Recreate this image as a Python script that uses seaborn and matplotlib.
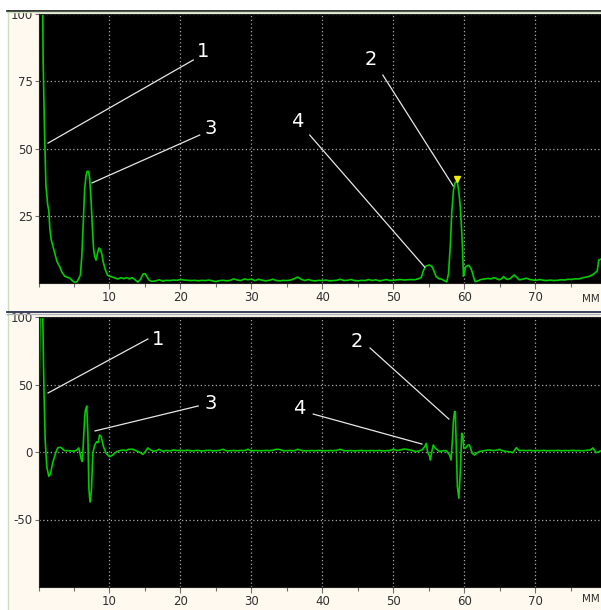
import numpy as np
import pandas as pd
import matplotlib
matplotlib.use("Agg")
import matplotlib.pyplot as plt
import seaborn as sns

# -------------------- data --------------------
# top panel: envelope amplitude (%) vs depth (mm)
env_x = [0.0, 0.02, 0.6, 0.65, 0.85, 1.05, 1.3, 1.45, 1.6, 1.8, 2.1, 2.3, 2.6, 3.0, 3.3,
         3.7, 4.0, 4.4, 4.8, 5.1, 5.4, 5.7, 5.9, 6.1, 6.3, 6.5, 6.7, 6.85, 7.05, 7.2,
         7.4, 7.6, 7.75, 7.9, 8.1, 8.3, 8.5, 8.7, 8.9, 9.1, 9.4, 9.7, 10.0, 10.4, 10.8,
         11.2, 11.6, 12.0, 12.4, 12.8, 13.2, 13.6, 14.0, 14.4, 14.7, 15.0, 15.3, 15.6,
         16.0, 16.5, 17.0, 17.5, 18.0, 18.5, 19.0, 19.5, 20.0, 20.5, 21.0,
         21.5, 22.0, 22.5, 23.0, 23.5, 24.0, 24.5, 25.0, 25.5, 26.0, 26.5, 27.0, 27.5,
         28.0, 28.5, 29.0, 29.5, 30.0, 30.5, 31.0, 31.5, 32.0, 32.5, 33.0, 33.5, 34.0,
         34.5, 35.0, 35.5, 36.0, 36.5, 37.0, 37.5, 38.0, 38.5, 39.0, 39.5, 40.0, 40.5,
         41.0, 41.5, 42.0, 42.5, 43.0, 43.5, 44.0, 44.5, 45.0, 45.5, 46.0, 46.5, 47.0,
         47.5, 48.0, 48.5, 49.0, 49.5, 50.0, 50.5, 51.0, 51.5, 52.0, 52.5, 53.0, 53.5,
         53.9, 54.2, 54.5, 55.0, 55.4, 55.7, 56.0, 56.4, 56.8, 57.2, 57.5, 57.75, 58.0,
         58.2, 58.45, 58.7, 59.0, 59.2, 59.4, 59.55, 59.7, 59.85, 60.0, 60.2, 60.6,
         60.9, 61.1, 61.3, 61.5, 61.9, 62.3, 62.8, 63.3, 63.7, 64.2, 64.5, 64.9, 65.2,
         65.5, 65.8, 66.1, 66.5, 67.0, 67.3, 67.7, 68.2, 68.7, 69.2, 69.7, 70.1, 70.6,
         71.1, 71.6, 72.1, 72.6, 73.1, 73.6, 74.1, 74.6, 75.1, 75.6, 76.1, 76.6, 77.1,
         77.6, 78.0, 78.4, 78.7, 78.9, 79.3]
env_y = [0, 100, 100, 83, 56, 36, 29, 27, 20, 16, 13, 11, 8, 6, 4,
         2.5, 2.2, 1.8, 0.8, 0.2, 0.5, 1.8, 3, 10, 22, 35, 40, 41.5, 41.5, 39,
         31, 20, 13, 10, 8.5, 11, 13, 12.5, 11, 8, 5, 3, 2.5, 2.2, 1.8,
         1.5, 2.0, 1.6, 2.0, 1.5, 2.0, 1.2, 0.3, 1.5, 3.3, 3.5, 2.2, 1.0,
         0.6, 0.8, 1.2, 0.7, 1.0, 0.9, 1.1, 1.0, 1.3, 1.1, 1.0,
         0.9, 1.0, 0.8, 1.0, 0.9, 1.1, 0.8, 0.5, 0.9, 1.0, 0.8, 1.0, 1.5,
         1.1, 0.9, 1.5, 1.2, 1.4, 0.9, 1.4, 1.0, 0.8, 1.0, 1.4, 0.9, 0.8,
         1.0, 0.9, 1.1, 1.6, 2.2, 1.4, 0.9, 1.3, 0.9, 0.8, 1.0, 0.9, 1.1,
         0.8, 0.9, 1.0, 1.4, 0.9, 1.0, 1.3, 0.9, 0.8, 1.0, 0.9, 1.3, 0.9,
         1.2, 0.8, 1.0, 1.3, 0.9, 1.0, 1.2, 1.3, 1.1, 1.2, 1.3, 1.2, 1.6,
         2.0, 4.5, 6.2, 6.7, 6.2, 4.5, 2.4, 1.6, 1.4, 0.8, 0.4, 3.5, 14,
         26, 34.5, 37.5, 37.5, 34, 28.5, 22, 14, 2.5, 4.5, 6.2, 6.6,
         5.5, 4.0, 2.0, 0.5, 0.8, 1.3, 1.5, 1.7, 1.5, 2.0, 1.6, 1.2, 1.5,
         2.4, 1.6, 1.3, 1.8, 3.0, 2.2, 1.2, 1.4, 1.8, 1.3, 1.1, 1.0, 1.3,
         1.0, 0.9, 1.1, 0.9, 1.0, 1.2, 1.1, 1.4, 1.3, 1.6, 1.5, 1.9, 2.2,
         2.5, 3.0, 3.8, 4.5, 8.5, 9.0]

# bottom panel: RF signal (%) vs depth (mm)
rf_x = [0.0, 0.1, 0.22, 0.6, 0.75, 0.94, 1.17, 1.45, 1.6, 1.69, 2.0, 2.4, 2.7, 3.0, 3.2,
        3.66, 4.2, 4.6, 5.07, 5.4, 5.68, 5.9, 6.05, 6.15, 6.25, 6.34, 6.5, 6.6, 6.8,
        6.95, 7.09, 7.2, 7.28, 7.46, 7.65, 7.9, 8.2, 8.4, 8.6, 8.83, 9.15, 9.53, 10.0,
        10.4, 10.7, 11.1, 11.4, 11.9, 12.3, 12.7, 13.3, 13.7, 14.2, 14.7, 15.0, 15.4,
        15.8, 16.2, 16.6, 17.0, 17.5, 18.0, 18.5, 19.0, 19.5, 20.0, 20.5, 21.0, 21.5,
        22.0, 22.5, 23.0, 23.5, 24.0, 24.5, 25.0, 25.5, 26.0, 26.5, 27.0, 27.5, 28.0,
        28.5, 29.0, 29.5, 30.0, 30.5, 31.0, 31.5, 32.0, 32.5, 33.0, 33.5, 34.0, 34.5,
        35.0, 35.5, 36.0, 36.5, 37.0, 37.5, 38.0, 38.5, 39.0, 39.5, 40.0, 40.5, 41.0,
        41.5, 42.0, 42.5, 43.0, 43.5, 44.0, 44.5, 45.0, 45.5, 46.0, 46.5, 47.0, 47.5,
        48.0, 48.5, 49.0, 49.5, 50.0, 50.5, 51.0, 51.5, 52.3, 53.2, 54.0, 54.4, 54.6,
        54.8, 55.1, 55.2, 55.4, 55.6, 55.9, 56.5, 57.0, 57.4, 57.9, 58.1, 58.3, 58.45,
        58.6, 58.7, 58.8, 59.0, 59.2, 59.4, 59.6, 59.76, 59.9, 60.1, 60.3, 60.5, 60.7,
        61.1, 61.4, 61.8, 62.1, 62.6, 63.0, 63.5, 64.0, 64.7, 64.9, 65.3, 65.8, 66.3,
        66.8, 67.3, 67.7, 68.2, 68.7, 69.2, 69.7, 70.2, 70.7, 71.2, 71.7, 72.2, 72.7,
        73.2, 73.7, 74.2, 74.7, 75.2, 75.7, 76.2, 76.7, 77.2, 77.7, 78.1, 78.5, 79.3]
rf_y = [38, 50, 100, 100, 51, 9, -11, -18, -17, -16, -8, -1, 3, 3.5, 3.2,
        1, 1, 0.8, 0.7, 1.5, 3, -2.2, -6, -7, 0, 9, 25, 31, 34,
        14, -26, -34, -37, -28, -1, 5, 7.6, 7, 12.6, 11.4, 4, -1, -3.5,
        -2.5, -1, 0.5, 1, 1.5, 1, 2, 2, 1, 0, -1.8, 0, 3,
        1.5, 0.5, 1, 2, 0.5, 1.2, 0.8, 1.5, 1, 1.3, 0.9, 1.4, 0.8,
        1.0, 1.2, 0.7, 1.1, 1.3, 0.9, 1.0, 1.2, 2.0, 0.8, 1.0, 1.1, 0.9,
        1.2, 1.0, 2.0, 0.8, 1.1, 1.0, 0.9, 1.2, 1.0, 1.3, 2.0, 1.8, 0.9,
        1.0, 1.1, 0.9, 2.0, 1.2, 0.8, 1.0, 1.1, 0.9, 1.2, 1.0, 0.9, 1.1,
        1.0, 1.2, 2.0, 1.0, 0.9, 1.1, 0.8, 1.0, 1.2, 0.9, 1.0, 1.1, 0.9,
        1.2, 0.8, 1.0, 1.1, 2.0, 1.0, 1.6, 2.2, 1.5, 0.3, 1.5, 4, 6.4,
        0.3, -3.5, -5.9, 0.3, 5.2, 2.7, 0.3, 1, 1, -2.2, -5.9, 8.9, 23.7,
        30, 29.9, 11.4, -25.7, -34.3, -15.8, 13.8, 12.6, 2.7, 2.7, 4, 5.2, 5.2,
        -1, -2.2, -0.5, 0.3, 0.8, 1.2, 1.5, 1.0, 1.5, 2, 1, 0.5, 0.2,
        -0.5, 3.2, 1, 1.2, 1.0, 1.3, 0.9, 1.1, 1.0, 1.2, 0.9, 1.1, 1.0,
        1.2, 0.9, 1.1, 1.0, 1.2, 1.0, 1.1, 0.9, 1.2, 1.5, 3, -0.5, 1]

# callout labels: text, text position, line start, line end (data units)
top_labels = ["1", "2", "3", "4"]
top_text_x = [23.2, 46.8, 24.2, 36.4]
top_text_y = [85.9, 82.9, 57.6, 60.2]
top_line_x0 = [21.8, 48.5, 22.7, 38.2]
top_line_y0 = [82.9, 77.3, 55.0, 55.0]
top_line_x1 = [1.34, 58.4, 7.54, 54.4]
top_line_y1 = [52.0, 36.1, 37.2, 5.9]

bot_labels = ["1", "2", "3", "4"]
bot_text_x = [16.8, 44.9, 24.2, 36.7]
bot_text_y = [83.7, 82.2, 35.6, 31.9]
bot_line_x0 = [15.4, 46.7, 22.5, 38.7]
bot_line_y0 = [83.7, 77.0, 34.1, 28.1]
bot_line_x1 = [1.34, 57.8, 7.96, 54.0]
bot_line_y1 = [43.7, 24.4, 15.6, 5.9]

gate_x = [58.9]
gate_y = [38.6]

x_ticks = [10, 20, 30, 40, 50, 60, 70]
x_minor = [0, 5, 15, 25, 35, 45, 55, 65, 75]
top_yticks = [25, 50, 75, 100]
bot_yticks = [-50, 0, 50, 100]
unit_label = "MM"

# -------------------- styling --------------------
plt.rcParams['font.family'] = ['DejaVu Sans']
plt.rcParams['axes.unicode_minus'] = False
CREAM = '#fff9ef'
GREEN = '#00cc00'
W, H = 601, 610
SCALE = 7.1  # px per mm
X0 = 38.5

fig = plt.figure(figsize=(W / 100, H / 100), dpi=100, facecolor=CREAM)

# window chrome: white strip at top/left and separator lines
fig.patches.append(plt.Rectangle((0, 1 - 10 / H), 1, 10 / H, transform=fig.transFigure,
                                 color='white', zorder=0))
fig.patches.append(plt.Rectangle((0, 0), 7 / W, 1, transform=fig.transFigure,
                                 color='white', zorder=0))
fig.add_artist(plt.Line2D([7.5 / W, 7.5 / W], [0, 1 - 10 / H], color='#c8e0c0', lw=1))
fig.add_artist(plt.Line2D([7 / W, 1], [1 - 10.5 / H] * 2, color='#101010', lw=1.2))
fig.add_artist(plt.Line2D([7 / W, 1], [1 - 12.3 / H] * 2, color='#c8e0c0', lw=1))
fig.add_artist(plt.Line2D([7 / W, 1], [1 - 311.8 / H] * 2, color='#2a3050', lw=1.3))
fig.add_artist(plt.Line2D([7 / W, 1], [1 - 313.5 / H] * 2, color='#b0b0b8', lw=1))

xmax = (W - X0) / SCALE
ax1 = fig.add_axes([X0 / W, 1 - 283 / H, 1 - X0 / W, (283 - 14) / H])
ax2 = fig.add_axes([X0 / W, 1 - 587 / H, 1 - X0 / W, (587 - 317) / H])

top = pd.DataFrame({"mm": env_x, "amp": env_y})
bot = pd.DataFrame({"mm": rf_x, "amp": rf_y})
sns.lineplot(data=top, x="mm", y="amp", ax=ax1, color=GREEN, lw=1.2,
             sort=False, estimator=None)
sns.lineplot(data=bot, x="mm", y="amp", ax=ax2, color=GREEN, lw=1.2,
             sort=False, estimator=None)

for ax, yl, yt in [(ax1, (0, 100), top_yticks), (ax2, (-100, 100), bot_yticks)]:
    ax.set_facecolor('black')
    ax.set_xlim(0, xmax)
    ax.set_ylim(*yl)
    ax.set_xticks(x_ticks)
    ax.set_xticks(x_minor, minor=True)
    ax.set_yticks(yt)
    ax.set_xlabel('')
    ax.set_ylabel('')
    ax.grid(True, which='major', color='#a8a8a8', lw=0.9, ls=(0, (1, 2)))
    ax.tick_params(axis='both', which='both', colors='#707070', labelcolor='#303030',
                   labelsize=8.5, direction='out', width=0.8)
    ax.tick_params(axis='x', which='major', length=4, pad=2)
    ax.tick_params(axis='x', which='minor', length=3)
    ax.tick_params(axis='y', length=3, pad=1)
    for s in ax.spines.values():
        s.set_color('#202020')
        s.set_linewidth(0.8)

# unit label at the right end of each depth axis
fig.text(582 / W, 1 - 299 / H, unit_label, fontsize=7.5, color='#303030', va='center', ha='left')
fig.text(582 / W, 1 - 599 / H, unit_label, fontsize=7.5, color='#303030', va='center', ha='left')

# callouts
for ax, labs, tx, ty, lx0, ly0, lx1, ly1 in [
        (ax1, top_labels, top_text_x, top_text_y, top_line_x0, top_line_y0, top_line_x1, top_line_y1),
        (ax2, bot_labels, bot_text_x, bot_text_y, bot_line_x0, bot_line_y0, bot_line_x1, bot_line_y1)]:
    for i, lab in enumerate(labs):
        ax.plot([lx0[i], lx1[i]], [ly0[i], ly1[i]], color='#e6e6e6', lw=0.9, zorder=4)
        ax.text(tx[i], ty[i], lab, color='white', fontsize=14, ha='center', va='center', zorder=5)

ax1.plot(gate_x, gate_y, marker='v', color='#f0f000', ms=5, ls='none', zorder=6)

fig.savefig("out.png", dpi=100, facecolor=CREAM)
